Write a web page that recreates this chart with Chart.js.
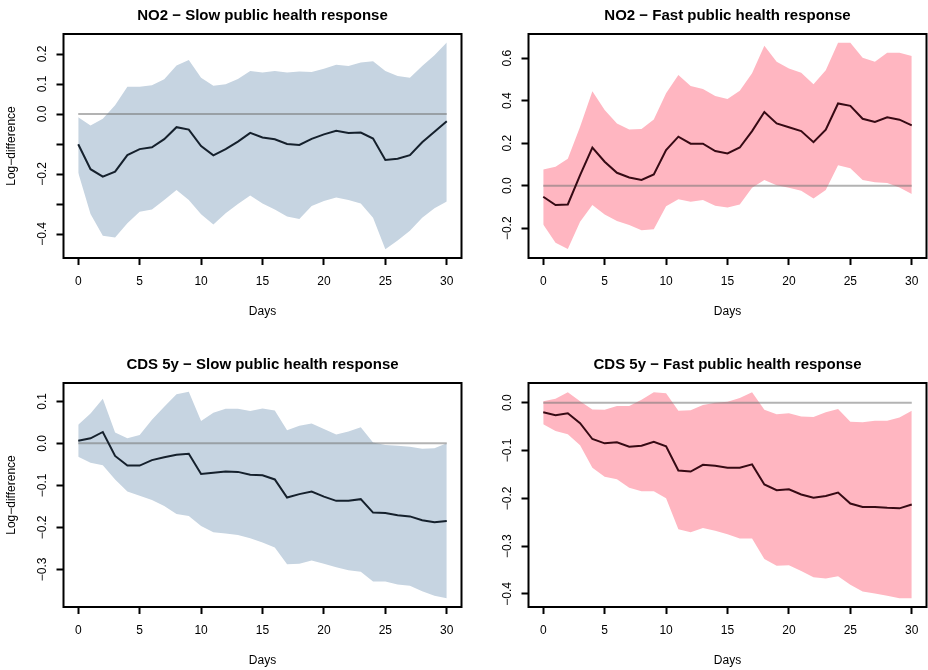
<!DOCTYPE html>
<html lang="en">
<head>
<meta charset="UTF-8">
<title>NO2 and CDS 5y – public health response</title>
<script src="https://cdn.jsdelivr.net/npm/chart.js"></script>
<style>
  html, body { margin: 0; padding: 0; background: #fff; }
  body { width: 928px; height: 670px; overflow: hidden; position: relative; }
  canvas { position: absolute; }
</style>
</head>
<body>
<canvas id="no2Slow" width="464" height="335" style="left:0;top:0"></canvas>
<canvas id="no2Fast" width="463" height="335" style="left:465px;top:0"></canvas>
<canvas id="cdsSlow" width="464" height="335" style="left:0;top:349px"></canvas>
<canvas id="cdsFast" width="463" height="335" style="left:465px;top:349px"></canvas>
<script>
// horizon in days
const days = [0, 1, 2, 3, 4, 5, 6, 7, 8, 9, 10, 11, 12, 13, 14, 15, 16, 17, 18, 19, 20, 21, 22, 23, 24, 25, 26, 27, 28, 29, 30];
const xTicks = [0, 5, 10, 15, 20, 25, 30];

// NO2, slow response
const no2SlowMean = [-0.101, -0.184, -0.209, -0.192, -0.137, -0.117, -0.111, -0.084, -0.044, -0.052, -0.107, -0.138, -0.117, -0.092, -0.063, -0.078, -0.084, -0.100, -0.103, -0.083, -0.068, -0.056, -0.063, -0.062, -0.082, -0.153, -0.149, -0.137, -0.094, -0.059, -0.024];
const no2SlowHigh = [-0.011, -0.038, -0.016, 0.029, 0.091, 0.091, 0.096, 0.116, 0.162, 0.180, 0.121, 0.094, 0.099, 0.117, 0.143, 0.138, 0.143, 0.138, 0.142, 0.140, 0.151, 0.164, 0.160, 0.172, 0.176, 0.143, 0.127, 0.121, 0.160, 0.196, 0.238];
const no2SlowLow = [-0.196, -0.333, -0.406, -0.412, -0.364, -0.326, -0.318, -0.287, -0.253, -0.287, -0.334, -0.368, -0.331, -0.300, -0.272, -0.298, -0.318, -0.342, -0.350, -0.307, -0.290, -0.278, -0.287, -0.298, -0.346, -0.451, -0.422, -0.389, -0.346, -0.314, -0.292];
const no2SlowTicks = [-0.4, -0.3, -0.2, -0.1, 0, 0.1, 0.2];
const no2SlowLabels = ['\u22120.4', '', '\u22120.2', '', '0.0', '0.1', '0.2'];

// NO2, fast response
const no2FastMean = [-0.052, -0.091, -0.088, 0.050, 0.180, 0.113, 0.061, 0.039, 0.027, 0.053, 0.168, 0.231, 0.198, 0.198, 0.163, 0.152, 0.180, 0.257, 0.347, 0.293, 0.275, 0.257, 0.205, 0.264, 0.387, 0.376, 0.315, 0.300, 0.322, 0.311, 0.284];
const no2FastHigh = [0.077, 0.089, 0.127, 0.278, 0.445, 0.356, 0.293, 0.265, 0.267, 0.312, 0.435, 0.521, 0.469, 0.455, 0.422, 0.408, 0.447, 0.529, 0.659, 0.584, 0.552, 0.532, 0.478, 0.544, 0.673, 0.673, 0.602, 0.584, 0.626, 0.626, 0.610];
const no2FastLow = [-0.182, -0.268, -0.298, -0.169, -0.091, -0.135, -0.166, -0.185, -0.209, -0.205, -0.096, -0.064, -0.075, -0.067, -0.094, -0.102, -0.088, -0.009, 0.027, 0.002, -0.009, -0.024, -0.060, -0.020, 0.097, 0.082, 0.027, 0.016, 0.013, -0.008, -0.039];
const no2FastTicks = [-0.2, 0, 0.2, 0.4, 0.6];
const no2FastLabels = ['\u22120.2', '0.0', '0.2', '0.4', '0.6'];

// CDS 5y, slow response
const cdsSlowMean = [0.006, 0.012, 0.027, -0.030, -0.053, -0.053, -0.040, -0.033, -0.027, -0.025, -0.073, -0.070, -0.067, -0.068, -0.075, -0.076, -0.086, -0.129, -0.121, -0.115, -0.127, -0.137, -0.137, -0.133, -0.165, -0.166, -0.171, -0.174, -0.183, -0.188, -0.185];
const cdsSlowHigh = [0.044, 0.071, 0.106, 0.026, 0.012, 0.020, 0.056, 0.087, 0.117, 0.123, 0.053, 0.073, 0.082, 0.082, 0.077, 0.083, 0.078, 0.031, 0.042, 0.047, 0.034, 0.021, 0.028, 0.038, 0.002, -0.004, -0.006, -0.008, -0.013, -0.012, 0.000];
const cdsSlowLow = [-0.032, -0.046, -0.052, -0.086, -0.115, -0.125, -0.135, -0.149, -0.168, -0.173, -0.197, -0.212, -0.215, -0.218, -0.226, -0.236, -0.248, -0.288, -0.287, -0.279, -0.287, -0.295, -0.302, -0.306, -0.329, -0.329, -0.336, -0.339, -0.352, -0.363, -0.369];
const cdsSlowTicks = [-0.3, -0.2, -0.1, 0, 0.1];
const cdsSlowLabels = ['\u22120.3', '\u22120.2', '\u22120.1', '0.0', '0.1'];

// CDS 5y, fast response
const cdsFastMean = [-0.020, -0.026, -0.022, -0.043, -0.076, -0.085, -0.083, -0.092, -0.090, -0.082, -0.091, -0.142, -0.144, -0.130, -0.132, -0.136, -0.136, -0.129, -0.171, -0.183, -0.181, -0.192, -0.199, -0.195, -0.188, -0.211, -0.218, -0.218, -0.220, -0.221, -0.213];
const cdsFastHigh = [0.003, 0.008, 0.022, 0.003, -0.014, -0.015, -0.007, -0.007, 0.006, 0.022, 0.020, -0.017, -0.016, -0.005, 0.000, 0.002, 0.010, 0.022, -0.015, -0.024, -0.022, -0.029, -0.030, -0.020, -0.013, -0.040, -0.041, -0.038, -0.038, -0.031, -0.017];
const cdsFastLow = [-0.045, -0.059, -0.066, -0.089, -0.136, -0.155, -0.160, -0.178, -0.185, -0.185, -0.200, -0.265, -0.271, -0.262, -0.268, -0.275, -0.284, -0.284, -0.327, -0.341, -0.340, -0.352, -0.365, -0.368, -0.363, -0.381, -0.395, -0.399, -0.404, -0.409, -0.409];
const cdsFastTicks = [-0.4, -0.3, -0.2, -0.1, 0];
const cdsFastLabels = ['\u22120.4', '\u22120.3', '\u22120.2', '\u22120.1', '0.0'];

Chart.defaults.font.family = "'Liberation Sans', Arial, Helvetica, sans-serif";
Chart.defaults.color = '#000';

const SLOW_BAND = '#c6d4e1';
const FAST_BAND = '#ffb6c1';

// black frame round the plot region
const boxPlugin = {
  id: 'box',
  afterDraw(chart) {
    const a = chart.chartArea;
    const ctx = chart.ctx;
    ctx.save();
    ctx.strokeStyle = '#000';
    ctx.lineWidth = 2;
    ctx.strokeRect(a.left, a.top, a.right - a.left, a.bottom - a.top);
    ctx.restore();
  }
};

function makePanel(id, opts) {
  const canvas = document.getElementById(id);
  const plotLeft = 63.5, plotBottom = 258;
  const rightPad = canvas.width - 461.5;
  const zero = days.map(() => 0);

  return new Chart(canvas, {
    type: 'line',
    data: {
      labels: days,
      datasets: [
        { data: opts.mean, borderColor: opts.lineColor, borderWidth: 2, pointRadius: 0, fill: false, tension: 0 },
        { data: zero, borderColor: 'rgba(117,117,117,0.55)', borderWidth: 2, pointRadius: 0, fill: false },
        { data: opts.high, borderWidth: 0, borderColor: 'rgba(0,0,0,0)', backgroundColor: opts.band, pointRadius: 0, fill: '+1' },
        { data: opts.low, borderWidth: 0, borderColor: 'rgba(0,0,0,0)', pointRadius: 0, fill: false }
      ]
    },
    options: {
      responsive: false,
      animation: false,
      events: [],
      layout: { padding: { left: 0, top: 0, right: rightPad, bottom: 0 } },
      plugins: {
        legend: { display: false },
        tooltip: { enabled: false },
        title: {
          display: true,
          text: opts.title,
          fullSize: false,
          font: { size: 15, weight: 'bold' },
          padding: { top: 7, bottom: 9 }
        }
      },
      scales: {
        x: {
          type: 'linear',
          min: -1.2,
          max: 31.2,
          afterBuildTicks: s => { s.ticks = xTicks.map(v => ({ value: v })); },
          afterFit: s => { s.height = 335 - plotBottom; },
          border: { display: false },
          grid: { drawOnChartArea: false, drawTicks: true, tickLength: 7, tickWidth: 2, tickColor: '#000' },
          ticks: { font: { size: 12 }, padding: 9.5, autoSkip: false, maxRotation: 0, callback: v => String(v) },
          title: { display: true, text: 'Days', font: { size: 12 }, padding: { top: 0, bottom: 16 } }
        },
        y: {
          min: opts.yMin,
          max: opts.yMax,
          afterBuildTicks: s => { s.ticks = opts.ticks.map(v => ({ value: v })); },
          afterFit: s => { s.width = plotLeft; },
          border: { display: false },
          grid: { drawOnChartArea: false, drawTicks: true, tickLength: 7, tickWidth: 2, tickColor: '#000' },
          ticks: {
            font: { size: 12 },
            padding: 2,
            autoSkip: false,
            minRotation: 90,
            maxRotation: 90,
            crossAlign: 'center',
            callback: (v, i) => opts.labels[i]
          },
          title: { display: opts.yTitle, text: 'Log\u2212difference', font: { size: 12 }, padding: { top: 4.5, bottom: 0 } }
        }
      }
    },
    plugins: [boxPlugin]
  });
}

makePanel('no2Slow', {
  title: 'NO2 \u2212 Slow public health response',
  mean: no2SlowMean, high: no2SlowHigh, low: no2SlowLow,
  ticks: no2SlowTicks, labels: no2SlowLabels,
  yMin: -0.48, yMax: 0.2667, yTitle: true,
  band: SLOW_BAND, lineColor: '#15202c'
});

makePanel('no2Fast', {
  title: 'NO2 \u2212 Fast public health response',
  mean: no2FastMean, high: no2FastHigh, low: no2FastLow,
  ticks: no2FastTicks, labels: no2FastLabels,
  yMin: -0.340, yMax: 0.714, yTitle: false,
  band: FAST_BAND, lineColor: '#360a14'
});

makePanel('cdsSlow', {
  title: 'CDS 5y \u2212 Slow public health response',
  mean: cdsSlowMean, high: cdsSlowHigh, low: cdsSlowLow,
  ticks: cdsSlowTicks, labels: cdsSlowLabels,
  yMin: -0.3897, yMax: 0.1436, yTitle: true,
  band: SLOW_BAND, lineColor: '#15202c'
});

makePanel('cdsFast', {
  title: 'CDS 5y \u2212 Fast public health response',
  mean: cdsFastMean, high: cdsFastHigh, low: cdsFastLow,
  ticks: cdsFastTicks, labels: cdsFastLabels,
  yMin: -0.4274, yMax: 0.0412, yTitle: false,
  band: FAST_BAND, lineColor: '#360a14'
});
</script>
</body>
</html>
